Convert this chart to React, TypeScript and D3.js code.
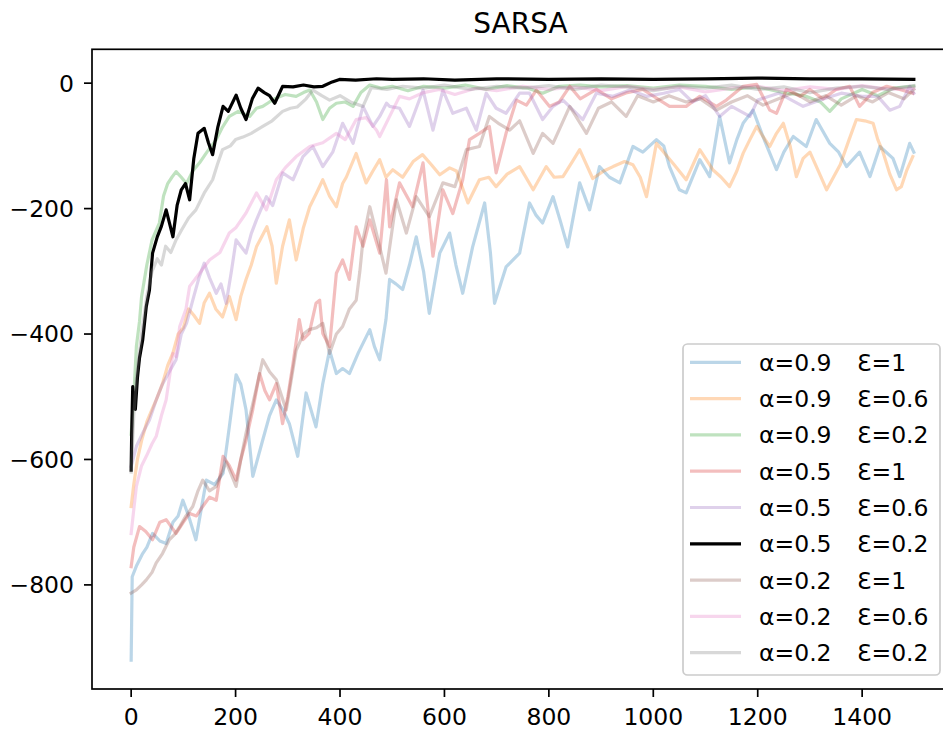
import { useEffect, useRef } from 'react';
import * as d3 from 'd3';

type Pt = [number, number];

// episode, reward readings
const blueA9E1: Pt[] = [[0,-920],[2,-787],[10,-770],[22,-750],[30,-740],[41,-718],[55,-730],[67,-734],[80,-700],[90,-690],[99,-665],[110,-690],[124,-728],[134,-680],[144,-633],[160,-640],[176,-622],[188,-548],[201,-465],[210,-480],[220,-521],[233,-627],[252,-569],[265,-530],[278,-505],[290,-520],[303,-543],[319,-595],[335,-494],[354,-548],[367,-479],[380,-426],[393,-463],[405,-455],[418,-463],[435,-430],[457,-393],[466,-420],[476,-441],[488,-377],[495,-313],[507,-320],[520,-329],[533,-290],[546,-245],[560,-300],[571,-367],[591,-271],[610,-239],[622,-290],[635,-335],[654,-261],[677,-191],[688,-270],[696,-351],[718,-293],[744,-271],[763,-191],[775,-210],[788,-223],[808,-181],[822,-220],[836,-261],[859,-159],[878,-202],[897,-133],[916,-150],[936,-159],[961,-101],[980,-110],[1006,-90],[1020,-100],[1031,-133],[1050,-170],[1063,-175],[1089,-122],[1108,-149],[1127,-53],[1146,-127],[1160,-90],[1172,-64],[1191,-43],[1210,-85],[1236,-138],[1250,-110],[1268,-85],[1293,-101],[1312,-58],[1338,-96],[1355,-110],[1370,-133],[1395,-110],[1415,-149],[1434,-101],[1459,-120],[1472,-149],[1491,-96],[1499,-110]];

const orangeA9E6: Pt[] = [[0,-675],[5,-640],[12,-600],[20,-570],[30,-540],[40,-520],[48,-505],[60,-479],[70,-450],[80,-430],[90,-400],[100,-390],[110,-360],[120,-370],[131,-383],[140,-350],[150,-335],[162,-360],[175,-373],[188,-340],[201,-377],[210,-340],[220,-313],[230,-290],[240,-261],[250,-245],[260,-229],[270,-260],[278,-319],[290,-260],[303,-218],[316,-282],[330,-230],[342,-197],[355,-175],[367,-154],[380,-180],[393,-197],[405,-160],[412,-150],[431,-112],[440,-135],[450,-159],[463,-140],[476,-122],[488,-150],[501,-138],[520,-150],[540,-125],[558,-114],[575,-130],[591,-146],[610,-135],[623,-140],[645,-191],[667,-154],[685,-150],[699,-165],[720,-145],[744,-133],[770,-170],[795,-133],[810,-150],[827,-149],[845,-125],[859,-106],[884,-152],[905,-140],[923,-133],[945,-125],[961,-130],[975,-150],[987,-181],[1006,-96],[1020,-110],[1040,-130],[1063,-154],[1089,-106],[1114,-138],[1130,-150],[1146,-165],[1160,-140],[1172,-112],[1185,-90],[1198,-69],[1210,-85],[1223,-101],[1236,-80],[1249,-64],[1262,-100],[1274,-149],[1287,-120],[1300,-110],[1316,-140],[1332,-170],[1345,-150],[1358,-130],[1375,-90],[1389,-58],[1405,-60],[1421,-64],[1430,-90],[1440,-110],[1453,-145],[1466,-170],[1475,-165],[1485,-140],[1497,-117]];

const greenA9E2: Pt[] = [[0,-560],[5,-500],[10,-420],[16,-380],[20,-340],[30,-290],[40,-250],[54,-223],[62,-180],[70,-160],[78,-150],[86,-141],[96,-150],[106,-160],[118,-140],[131,-127],[145,-110],[163,-90],[175,-70],[188,-53],[205,-45],[227,-53],[240,-40],[252,-37],[265,-30],[277,-24],[295,-18],[316,-21],[330,-15],[342,-11],[355,-30],[367,-58],[380,-40],[393,-32],[410,-30],[425,-37],[440,-15],[457,-3],[480,-8],[500,-5],[530,-12],[560,-5],[600,-8],[640,-3],[680,-10],[720,-4],[760,-8],[788,-16],[820,-5],[860,-3],[900,-6],[950,-4],[1000,-8],[1050,-3],[1100,-5],[1150,-10],[1200,-6],[1250,-15],[1290,-20],[1320,-30],[1338,-45],[1360,-25],[1400,-10],[1430,-20],[1460,-8],[1499,-5]];

const redA5E1: Pt[] = [[0,-771],[5,-740],[16,-707],[28,-715],[41,-728],[55,-700],[67,-696],[86,-718],[100,-700],[112,-686],[125,-690],[137,-675],[150,-660],[163,-665],[176,-595],[188,-610],[201,-633],[210,-600],[220,-569],[233,-520],[246,-463],[256,-490],[265,-505],[278,-479],[290,-543],[300,-500],[310,-447],[322,-377],[329,-409],[341,-399],[354,-351],[361,-346],[367,-399],[380,-420],[393,-303],[405,-282],[418,-313],[431,-229],[444,-260],[457,-218],[476,-271],[489,-154],[495,-229],[514,-159],[539,-197],[559,-127],[578,-276],[597,-170],[616,-208],[635,-154],[648,-90],[667,-80],[686,-69],[699,-143],[718,-80],[738,-27],[757,-35],[776,-11],[801,-37],[820,-30],[840,-5],[860,-25],[891,-10],[920,-25],[950,-15],[980,-10],[1012,-27],[1031,-37],[1063,-37],[1089,-21],[1121,-37],[1140,-27],[1172,-5],[1198,-2],[1223,-43],[1236,-48],[1255,-10],[1281,-21],[1300,-10],[1325,-25],[1350,-10],[1376,-5],[1395,-37],[1420,-15],[1447,-5],[1472,-10],[1497,-16]];

const purpleA5E6: Pt[] = [[0,-611],[10,-579],[22,-558],[35,-537],[48,-505],[60,-480],[73,-460],[86,-441],[96,-400],[106,-383],[120,-340],[130,-310],[140,-287],[150,-310],[163,-335],[172,-320],[182,-351],[192,-300],[201,-250],[210,-260],[220,-271],[230,-240],[240,-218],[259,-181],[271,-195],[290,-143],[310,-154],[329,-117],[348,-101],[367,-133],[386,-110],[405,-64],[425,-96],[444,-37],[463,-69],[476,-53],[489,-32],[495,-37],[514,-40],[533,-69],[559,-11],[578,-75],[597,-11],[616,-48],[642,-40],[661,-75],[680,-16],[699,-40],[718,-48],[744,-16],[763,-16],[788,-58],[808,-37],[827,-27],[865,-58],[891,-16],[923,-21],[955,-11],[987,-21],[1020,-16],[1050,-10],[1075,-30],[1100,-20],[1127,-53],[1150,-37],[1185,-53],[1200,-27],[1240,-16],[1287,-37],[1320,-27],[1360,-16],[1400,-21],[1430,-21],[1453,-43],[1472,-37],[1491,-5],[1499,-16]];

const blackA5E2: Pt[] = [[0,-617],[1,-560],[3,-484],[8,-520],[12,-470],[16,-438],[22,-410],[29,-356],[35,-330],[41,-271],[50,-245],[58,-228],[67,-202],[74,-225],[80,-245],[88,-195],[96,-170],[104,-160],[112,-186],[120,-120],[128,-80],[140,-72],[148,-95],[156,-114],[166,-70],[176,-37],[186,-45],[201,-19],[210,-40],[220,-58],[232,-25],[243,-8],[255,-15],[265,-20],[275,-32],[290,-5],[310,-6],[330,-3],[350,-6],[367,-5],[385,2],[399,6],[430,5],[470,7],[500,6],[560,7],[620,5],[700,7],[800,6],[900,7],[1000,6],[1100,7],[1200,8],[1300,7],[1400,7],[1499,6]];

const brownA2E1: Pt[] = [[0,-813],[10,-808],[20,-800],[29,-792],[40,-780],[48,-765],[60,-750],[73,-728],[83,-720],[93,-707],[105,-690],[118,-675],[128,-650],[137,-633],[150,-650],[163,-643],[182,-604],[201,-643],[210,-600],[220,-558],[236,-500],[252,-441],[265,-460],[278,-473],[297,-521],[316,-426],[330,-400],[341,-393],[355,-390],[367,-383],[380,-431],[393,-400],[405,-388],[418,-360],[431,-346],[438,-300],[444,-250],[457,-197],[467,-230],[476,-261],[488,-303],[508,-186],[527,-239],[546,-181],[571,-213],[597,-159],[620,-165],[642,-106],[667,-101],[686,-53],[705,-65],[725,-75],[744,-60],[770,-112],[788,-80],[808,-96],[840,-37],[872,-80],[895,-40],[920,-30],[948,-53],[970,-20],[1000,-30],[1030,-20],[1063,-30],[1090,-25],[1121,-43],[1150,-30],[1180,-20],[1210,-35],[1240,-25],[1270,-15],[1300,-30],[1330,-20],[1360,-35],[1390,-20],[1420,-30],[1450,-15],[1480,-25],[1499,-10]];

const pinkA2E6: Pt[] = [[0,-718],[5,-680],[10,-643],[20,-610],[29,-595],[40,-575],[48,-563],[58,-530],[67,-505],[80,-431],[86,-436],[93,-388],[105,-360],[112,-324],[131,-303],[150,-282],[170,-270],[188,-239],[201,-230],[220,-207],[240,-175],[259,-202],[278,-154],[295,-135],[316,-117],[342,-101],[367,-95],[393,-80],[410,-90],[431,-58],[450,-55],[470,-75],[476,-85],[495,-53],[514,-21],[533,-25],[560,-15],[590,-10],[620,-18],[660,-8],[700,-12],[750,-5],[800,-10],[850,-6],[900,-12],[950,-5],[1000,-10],[1050,-6],[1100,-14],[1150,-8],[1200,-5],[1250,-12],[1300,-6],[1350,-10],[1400,-4],[1450,-10],[1499,-8]];

const grayA2E2: Pt[] = [[0,-620],[5,-530],[10,-470],[20,-400],[30,-340],[40,-300],[50,-280],[58,-290],[66,-260],[76,-270],[86,-250],[96,-235],[110,-215],[124,-202],[140,-175],[156,-154],[165,-130],[175,-106],[190,-100],[200,-90],[214,-86],[230,-80],[252,-69],[270,-60],[290,-45],[305,-40],[318,-38],[335,-25],[348,-11],[365,-20],[380,-27],[400,-20],[420,-30],[444,-37],[460,-7],[490,-10],[520,-5],[560,-8],[600,-3],[650,-10],[700,-5],[750,-8],[800,-4],[850,-10],[900,-3],[950,-6],[1000,-12],[1050,-5],[1100,-8],[1150,-3],[1200,-10],[1250,-6],[1300,-15],[1350,-8],[1400,-5],[1450,-10],[1499,-4]];

const seriesData: Pt[][] = [blueA9E1, orangeA9E6, greenA9E2, redA5E1, purpleA5E6, blackA5E2, brownA2E1, pinkA2E6, grayA2E2];
const alphaLabels = ['0.9', '0.9', '0.9', '0.5', '0.5', '0.5', '0.2', '0.2', '0.2'];
const epsLabels = ['1', '0.6', '0.2', '1', '0.6', '0.2', '1', '0.6', '0.2'];
const colors = ['#1f77b4', '#ff7f0e', '#2ca02c', '#d62728', '#9467bd', '#000000', '#8c564b', '#e377c2', '#7f7f7f'];
const opacities = [0.3, 0.3, 0.3, 0.3, 0.3, 1, 0.3, 0.3, 0.3];
const xTicks = [0, 200, 400, 600, 800, 1000, 1200, 1400];
const yTicks = [0, -200, -400, -600, -800];

export default function App() {
  const svgRef = useRef<SVGSVGElement | null>(null);

  useEffect(() => {
    const svg = d3.select(svgRef.current);
    svg.selectAll('*').remove();

    const width = 943;
    const height = 731;
    const left = 92;
    const top = 49.3;
    const bottom = 689;
    const right = 953; // right spine falls outside the cropped figure
    const font = 'DejaVu Sans, sans-serif';
    const fs = 23.5;

    svg.attr('width', width).attr('height', height);

    const x = d3.scaleLinear().domain([-75, 1574]).range([left, right]);
    const y = d3.scaleLinear().domain([-966, 54]).range([bottom, top]);

    svg.append('rect').attr('width', width).attr('height', height).attr('fill', '#fff');

    // lines
    const line = d3.line<Pt>().x((d) => x(d[0])).y((d) => y(d[1]));
    seriesData.forEach((s, i) => {
      svg.append('path')
        .attr('d', line(s))
        .attr('fill', 'none')
        .attr('stroke', colors[i])
        .attr('stroke-opacity', opacities[i])
        .attr('stroke-width', 3.2)
        .attr('stroke-linejoin', 'round')
        .attr('stroke-linecap', 'square');
    });

    // spines
    svg.append('rect')
      .attr('x', left).attr('y', top)
      .attr('width', right - left).attr('height', bottom - top)
      .attr('fill', 'none').attr('stroke', '#000').attr('stroke-width', 1.7);

    // x ticks
    const gx = svg.append('g');
    xTicks.forEach((t) => {
      gx.append('line').attr('x1', x(t)).attr('x2', x(t)).attr('y1', bottom).attr('y2', bottom + 8)
        .attr('stroke', '#000').attr('stroke-width', 1.7);
      gx.append('text').attr('x', x(t)).attr('y', bottom + 36).attr('text-anchor', 'middle')
        .attr('font-family', font).attr('font-size', fs).attr('fill', '#000').text(String(t));
    });

    // y ticks
    const gy = svg.append('g');
    yTicks.forEach((t) => {
      gy.append('line').attr('x1', left - 8).attr('x2', left).attr('y1', y(t)).attr('y2', y(t))
        .attr('stroke', '#000').attr('stroke-width', 1.7);
      gy.append('text').attr('x', left - 18).attr('y', y(t)).attr('dy', '0.36em').attr('text-anchor', 'end')
        .attr('font-family', font).attr('font-size', fs).attr('fill', '#000')
        .text(t < 0 ? '\u2212' + Math.abs(t) : String(t));
    });

    // title
    svg.append('text').attr('x', (left + right) / 2 - 2).attr('y', 33).attr('text-anchor', 'middle')
      .attr('font-family', font).attr('font-size', 28).attr('fill', '#000').text('SARSA');

    // legend
    const lg = svg.append('g');
    lg.append('rect').attr('x', 683).attr('y', 344).attr('width', 257).attr('height', 331).attr('rx', 4.5)
      .attr('fill', '#fff').attr('fill-opacity', 0.8).attr('stroke', '#cccccc').attr('stroke-width', 1.7);
    alphaLabels.forEach((a, i) => {
      const ry = 362.3 + i * 36.3;
      lg.append('line').attr('x1', 690).attr('x2', 741).attr('y1', ry).attr('y2', ry)
        .attr('stroke', colors[i]).attr('stroke-opacity', opacities[i]).attr('stroke-width', 3.2);
      const tx = lg.append('text').attr('y', ry).attr('dy', '0.36em')
        .attr('font-family', font).attr('font-size', fs).attr('fill', '#000');
      tx.append('tspan').attr('x', 759).text('\u03b1=' + a);
      tx.append('tspan').attr('x', 857).text('\u0190=' + epsLabels[i]);
    });

    return () => {
      svg.selectAll('*').remove();
    };
  }, []);

  return (
    <div style={{ position: 'absolute', left: 0, top: 0 }}>
      <svg ref={svgRef} style={{ display: 'block' }} />
    </div>
  );
}
